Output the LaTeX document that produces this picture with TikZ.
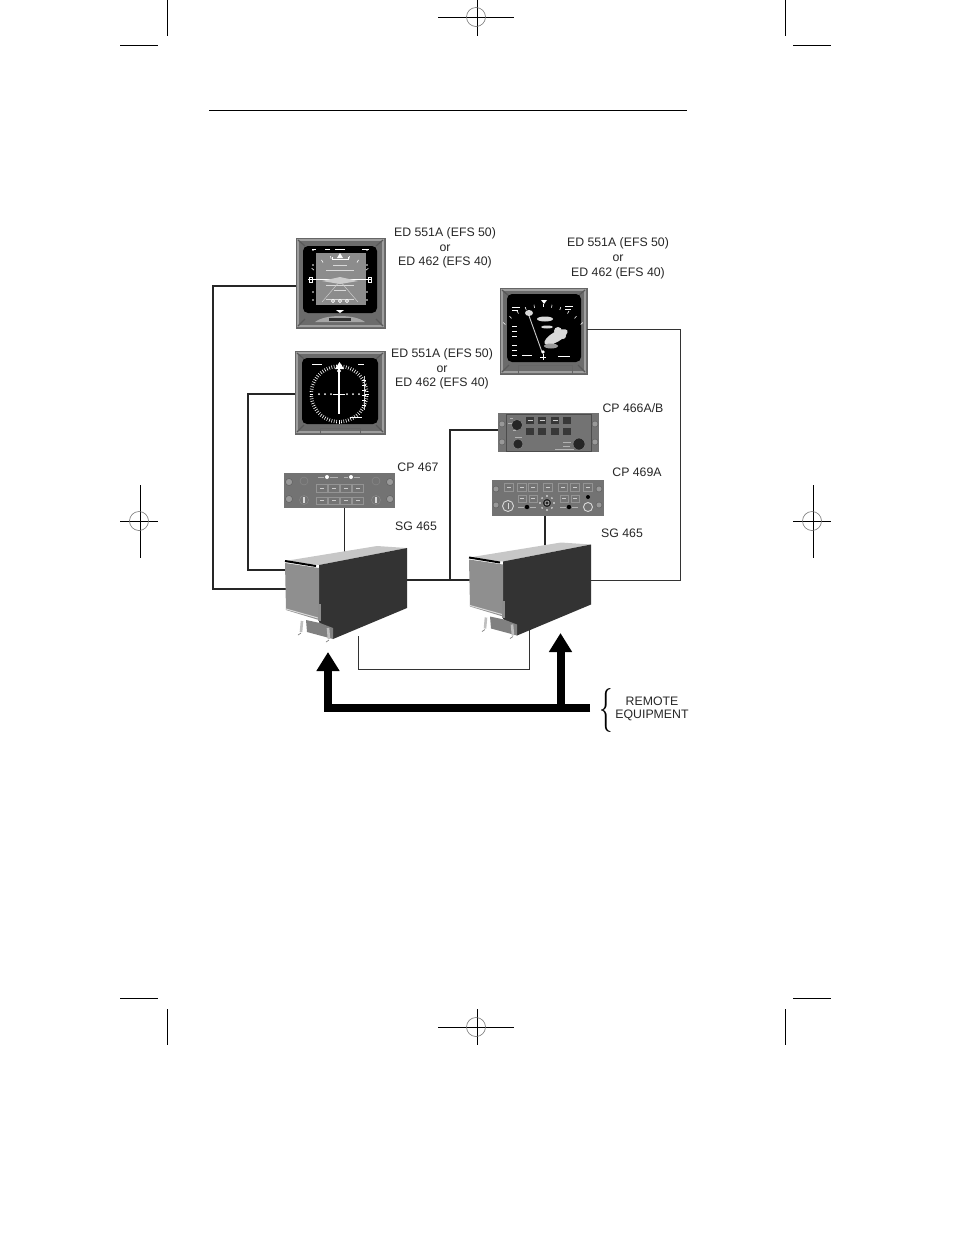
\documentclass[tikz,border=0pt]{standalone}
\usepackage{fontspec}
\setmainfont{Liberation Sans}
\usetikzlibrary{arrows.meta,calc}

\definecolor{platecol}{gray}{0.42}
\definecolor{rimcol}{gray}{0.62}
\definecolor{panelcol}{gray}{0.45}
\definecolor{sidecol}{gray}{0.2}
\definecolor{frontcol}{gray}{0.56}
\definecolor{topcol}{gray}{0.78}

\tikzset{
  lbl/.style={font=\fontsize{12.3}{14}\selectfont, text=black!85, inner sep=0pt},
  plate/.style={draw=black!60, fill=platecol, line width=0.6pt, inner sep=0pt},
  panel/.style={draw=none, fill=panelcol, inner sep=0pt},
  wire/.style={line width=1.4pt, black!85},
  thinwire/.style={line width=1pt, black!80},
  bus/.style={line width=8pt, black, -{Triangle[length=19pt,width=22pt]}},
  cropline/.style={line width=1pt, black},
  pushbtn/.style={fill=black!55, draw=black!42, line width=0.4pt},
  darkbtn/.style={fill=black!78, draw=black!55, line width=0.3pt},
  knob/.style={fill=black!85, draw=black!45, line width=0.4pt},
  earscrew/.style={draw=black!65, fill=black!40, line width=0.4pt},
  scaletick/.style={white, line width=0.6pt}
}

% Crop mark target
\newcommand{\croptarget}[3]{
  \draw[cropline] (#1-#3,#2) -- (#1+#3-2,#2);
  \draw[black!55, line width=0.6pt] (#1-1,#2) circle (9.5);
}
% Faceplate trim of a display
\newcommand{\facetrim}[4]{
  \draw[rimcol, line width=1.2pt] (#1+2,#2+2) rectangle (#3-2,#4-2);
  \draw[black!65, line width=1.2pt] (#1+2,#2+2) -- (#1+9,#2+8) (#3-2,#2+2) -- (#3-9,#2+8)
    (#1+2,#4-2) -- (#1+9,#4-9) (#3-2,#4-2) -- (#3-9,#4-9);
}
% SG 465 unit
\newcommand{\sgunit}[1]{
  \begin{scope}[shift={#1}]
    \fill[topcol] (285,561) -- (377,546) -- (407,548) -- (319,565) -- cycle;
    \fill[sidecol] (319,565) -- (407,548) -- (407,608) -- (333,639) -- (319,622) -- cycle;
    \fill[frontcol] (285,563) -- (319,568) -- (319,620) -- (286,610) -- cycle;
    \draw[black, line width=2pt] (285,561) -- (316,566);
    \draw[black!15, line width=1pt] (286,609) -- (318,618);
    \fill[black!45] (318,604) rectangle (321,621);
    \fill[black!50] (306,620) -- (320,623) -- (333,628) -- (333,639) -- (307,632) -- cycle;
    \draw[black!25, line width=2.6pt] (302,621) -- (301,632);
    \draw[black!25, line width=2.6pt] (328,628) -- (329,639);
    \draw[black!50, line width=0.7pt] (301,633) -- (298,635) (329,640) -- (326,642);
  \end{scope}
}

\begin{document}
\begin{tikzpicture}[x=1pt,y=-1pt]
\useasboundingbox (0,0) rectangle (954,1235);

% Crop marks
\foreach \xa/\xb in {120/158,793/831} {
  \draw[cropline] (\xa,45) -- (\xb,45);
  \draw[cropline] (\xa,998) -- (\xb,998);
}
\foreach \xv in {167,785} {
  \draw[cropline] (\xv,0) -- (\xv,36);
  \draw[cropline] (\xv,1009) -- (\xv,1045);
}
\draw[cropline] (477,0) -- (477,36);
\croptarget{477}{17}{39}
\draw[cropline] (477,1009) -- (477,1045);
\croptarget{477}{1027}{39}
\draw[cropline] (140,485) -- (140,558);
\croptarget{140}{521}{20}
\draw[cropline] (813,485) -- (813,558);
\croptarget{813}{521}{20}

% Page rule
\draw[line width=0.9pt] (209,110) -- (687,110);

% Displays and control panels
\node[plate, minimum width=89, minimum height=90] (pfd) at (340.5,283) {};
\node[plate, minimum width=90, minimum height=83] (hsi) at (340,392.5) {};
\node[plate, minimum width=87, minimum height=86] (nd) at (543.5,331) {};
\node[panel, minimum width=111, minimum height=35] (cpa) at (339.5,490.5) {};
\node[panel, minimum width=101, minimum height=39] (cpb) at (548.5,432.5) {};
\node[panel, minimum width=112, minimum height=36] (cpc) at (548,498) {};

% Connection points
\coordinate (pfdport) at (296,286);
\coordinate (hsiport) at (295,394);
\coordinate (ndport) at (587,329);
\coordinate (cpbport) at (498,430);
\coordinate (sgApfd) at (290,589);
\coordinate (sgAhsi) at (290,570);
\coordinate (sgAtop) at (344.5,555);
\coordinate (sgAout) at (400,580);
\coordinate (sgAlow) at (358,636);
\coordinate (sgBin) at (475,580);
\coordinate (sgBtop) at (545,550);
\coordinate (sgBout) at (585,580);
\coordinate (sgBlow) at (529,630);
\coordinate (sgBjoin) at (450,580);

% Wiring
\draw[wire] (pfdport) -- (213,286) |- (sgApfd);
\draw[wire] (hsiport) -- (248,394) |- (sgAhsi);
\draw[wire] (cpa.south -| sgAtop) -- (sgAtop);
\draw[wire] (sgAout) -- (sgBin);
\draw[wire] (cpbport) -| (sgBjoin);
\draw[wire] (cpc.south -| sgBtop) -- (sgBtop);
\draw[thinwire] (ndport) -| (680,580) -- (sgBout);
\draw[thinwire] (sgAlow) |- (529,669) -- (sgBlow);

% SG units
\sgunit{(0,0)}
\sgunit{(184,-3.5)}

% Remote equipment buses
\coordinate (busend) at (590,708);
\coordinate (busA) at (328,652);
\coordinate (busB) at (560.5,633);
\draw[bus] (busend) -- (328,708) -- (busA);
\draw[bus] (560.5,708) -- (busB);

% PFD face
\facetrim{296}{238}{385}{328}
\fill[black, rounded corners=5pt] (303,246) rectangle (377,313);
\fill[black!45] (316,253) rectangle (366,305);
\draw[white, line width=0.5pt] (308,279.5) -- (372,279.5);
\fill[white!80!black] (322,281) -- (340,277) -- (358,281) -- (340,284) -- cycle;
\foreach \a in {-50,-30,-15,15,30,50} {
  \draw[scaletick] ($(340,292)+(270+\a:37)$) -- ($(340,292)+(270+\a:34)$);
}
\draw[scaletick] (332,257) -- (332,259) -- (348,259) -- (348,257);
\fill[white] (340,253) -- (343,258) -- (337,258) -- cycle;
\foreach \yy/\ww in {265/7,270/14,285/14,290/6,299/14} {
  \draw[white!85!black, line width=0.7pt] (340-\ww,\yy) -- (340+\ww,\yy);
}
\draw[white!80!black, line width=0.5pt] (340,281) -- (322,302) (340,281) -- (358,302);
\fill[white] (340,313) -- (344,310) -- (336,310) -- cycle;
\foreach \xx in {333,340,347} {
  \draw[white, line width=0.7pt] (\xx,301) circle (1.6);
}
\draw[white, line width=0.5pt] (309,277) rectangle (312,282) (368,277) rectangle (371,282);
\foreach \yy in {250,265,292,300} {
  \fill[white] (313,\yy) circle (0.9);
  \fill[white] (367,\yy) circle (0.9);
}
\draw[white, line width=0.5pt] (312,249) -- (316,249) (325,249) -- (330,249) (335,249) -- (345,249) (362,249) -- (369,249);
\fill[black!35] (315,322) .. controls (325,314) and (355,314) .. (365,322) -- cycle;
\fill[black!80] (329,318) rectangle (351,321);

% HSI face
\facetrim{295}{351}{385}{434}
\fill[black, rounded corners=5pt] (302,358) rectangle (378,424);
\foreach \a in {0,5,...,355} {
  \draw[scaletick] ($(339,394)+(\a:26)$) -- ($(339,394)+(\a:29.5)$);
}
\draw[white, line width=1.2pt] (339,369) -- (339,414);
\fill[white] (339.5,362) -- (344,369) -- (335,369) -- cycle;
\draw[white, line width=0.5pt] (339,371) circle (1.8);
\foreach \xx in {319,325,331,347,353,359} {
  \fill[white] (\xx,394) circle (1);
}
\draw[white, line width=0.8pt] (333,394) -- (345,394) (339,391) -- (339,398);
\draw[white!80!black, line width=0.6pt] (364,376) -- (364,410);
\foreach \yy in {380,385,...,405} {
  \draw[scaletick] (362,\yy) -- (366,\yy);
}
\draw[scaletick] (312,364) -- (322,364) (358,364) -- (364,364) (350,417) -- (362,417);
\draw[black!60, line width=0.5pt] (320,434) -- (320,428) -- (360,428) -- (360,434);

% ND face
\facetrim{500}{288}{587}{374}
\fill[black, rounded corners=5pt] (507,294) rectangle (581,362);
\foreach \a in {-50,-40,...,50} {
  \draw[scaletick] ($(543,356)+(270+\a:52)$) -- ($(543,356)+(270+\a:49)$);
}
\fill[white] (544,304) -- (547,300) -- (541,300) -- cycle;
\draw[white!80!black, line width=0.9pt] (528,313) -- (542,352);
\fill[white!85!black] (529,313) ellipse (4 and 3);
\fill[white!85!black] (545,319) ellipse (8 and 2.5) (547,327) ellipse (6 and 1.5);
\fill[white!85!black, rotate around={30:(556,337)}] (556,337) ellipse (13 and 5);
\fill[white!85!black] (558,331) circle (4) (551,341) circle (4) (563,336) circle (3);
\fill[white!60!black] (551,346) ellipse (7 and 2.5);
\fill[white] (543,352) circle (1.8);
\draw[scaletick] (543,354) -- (543,360) (540,357) -- (546,357);
\draw[scaletick] (512,307) -- (520,307) (512,310) -- (518,310) (565,306) -- (573,306) (565,309) -- (571,309);
\foreach \yy in {326,331,336,345,350,355} {
  \draw[scaletick] (512,\yy) -- (517,\yy);
}
\draw[scaletick] (522,355) -- (532,355) (558,356) -- (570,356);
\draw[black!60, line width=0.5pt] (518,374) -- (518,365) -- (572,365) -- (572,374);

% CP 467 face
\foreach \xx in {289,390} {
  \draw[earscrew] (\xx,482) circle (3.5);
  \draw[earscrew] (\xx,499) circle (3.5);
}
\foreach \xx in {304,376} {
  \draw[knob, fill=black!55] (\xx,481) circle (4);
  \draw[knob, fill=black!55] (\xx,500) circle (4.5);
  \fill[white!85!black] (\xx-1,497) rectangle (\xx+1,503);
}
\foreach \xx in {322,334,346,358} {
  \draw[pushbtn] (\xx-5.5,484) rectangle (\xx+5.5,492);
  \draw[pushbtn] (\xx-5.5,497) rectangle (\xx+5.5,504);
  \draw[white!80!black, line width=0.5pt] (\xx-2,488) -- (\xx+2,488) (\xx-2,500.5) -- (\xx+2,500.5);
}
\fill[white] (327,477) circle (2);
\fill[white] (351,477) circle (2);
\draw[white!70!black, line width=0.5pt] (318,477) -- (324,477) (330,477) -- (338,477) (344,477) -- (348,477) (354,477) -- (360,477);

% CP 466A/B face
\draw[black!70, line width=0.5pt] (506,414) rectangle (591,451);
\foreach \xx in {502,595} {
  \draw[earscrew] (\xx,424) circle (3);
  \draw[earscrew] (\xx,442) circle (3);
}
\foreach \xx in {530,542,555,567} {
  \draw[darkbtn] (\xx-4.5,416) rectangle (\xx+4.5,424);
  \draw[darkbtn] (\xx-4.5,427) rectangle (\xx+4.5,435);
}
\foreach \xx in {530,542,555} {
  \draw[white!80!black, line width=0.6pt] (\xx-2.5,420) -- (\xx+2.5,420);
}
\draw[knob] (517,425) circle (5.5);
\draw[knob] (518,444) circle (5);
\draw[knob] (579,444) circle (6);
\draw[white!70!black, line width=0.5pt] (510,418) -- (513,418) (508,423) -- (512,423) (513,430) -- (516,430) (515,437) -- (522,437) (563,442) -- (571,442) (563,446) -- (570,446) (555,449) -- (574,449);

% CP 469A face
\foreach \xx in {496,599} {
  \draw[earscrew] (\xx,489) circle (3);
  \draw[earscrew] (\xx,505) circle (3);
}
\foreach \xx in {509,522,533,548,563,575,588} {
  \draw[pushbtn] (\xx-4.5,483) rectangle (\xx+4.5,491);
  \draw[white!80!black, line width=0.5pt] (\xx-2,487) -- (\xx+2,487);
}
\foreach \xx in {522,533,564,575} {
  \draw[pushbtn] (\xx-4,495) rectangle (\xx+4,502);
  \draw[white!80!black, line width=0.5pt] (\xx-2,498.5) -- (\xx+2,498.5);
}
\draw[white!85!black, line width=0.9pt] (508,506) circle (5.5);
\draw[white!85!black, line width=0.6pt] (508,503) -- (508,509);
\draw[white!85!black, line width=0.9pt] (588,507) circle (4.5);
\fill[black] (527,507) circle (2.2);
\fill[black] (569,507) circle (2.2);
\fill[black] (588,497) circle (2);
\draw[knob] (547,503) circle (4.5);
\draw[white!70!black, line width=0.7pt] (547,503) circle (2);
\foreach \a in {0,45,...,315} {
  \fill[white] ($(547,503)+(\a:7)$) circle (0.8);
}
\draw[white!70!black, line width=0.5pt] (518,507) -- (524,507) (530,507) -- (536,507) (560,507) -- (566,507) (572,507) -- (578,507);

% Labels
\node[lbl] (pfdA) at (445,233.5) {ED 551A (EFS 50)};
\node[lbl] (pfdB) at (445,248) {or};
\node[lbl] (pfdC) at (445,262.5) {ED 462 (EFS 40)};
\node[lbl] (hsiA) at (442,354.5) {ED 551A (EFS 50)};
\node[lbl] (hsiB) at (442,369) {or};
\node[lbl] (hsiC) at (442,383.5) {ED 462 (EFS 40)};
\node[lbl] (ndA) at (618,243.5) {ED 551A (EFS 50)};
\node[lbl] (ndB) at (618,258.5) {or};
\node[lbl] (ndC) at (618,273.5) {ED 462 (EFS 40)};
\node[lbl] (cpaL) at (418,467.5) {CP 467};
\node[lbl] (cpbL) at (633,408.5) {CP 466A/B};
\node[lbl] (cpcL) at (637,472.5) {CP 469A};
\node[lbl] (sgAL) at (416,526.5) {SG 465};
\node[lbl] (sgBL) at (622,533.5) {SG 465};
\node[lbl] (remA) at (652,701.5) {REMOTE};
\node[lbl] (remB) at (652,715.5) {EQUIPMENT};
\node[inner sep=0pt, xscale=2.7, yscale=4.4] (remC) at (606,710) {$\{$};

\end{tikzpicture}
\end{document}
